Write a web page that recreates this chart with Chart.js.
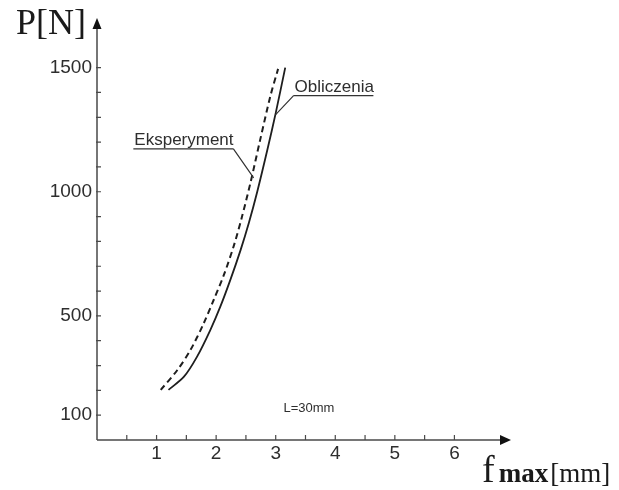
<!DOCTYPE html>
<html>
<head>
    <title>P(f_max)</title>
    <script src="https://cdn.jsdelivr.net/npm/chart.js"></script>
    <style>
        body { margin: 0; background: #fff; }
    </style>
</head>
<body>
    <canvas id="forceChart" width="619" height="490"></canvas>

    <script>
        // deflection f_max [mm] vs force P [N], L = 30 mm
        const obliczeniaX = [1.20, 1.46, 1.68, 1.90, 2.07, 2.24, 2.41, 2.55, 2.69, 2.86, 3.00, 3.16];
        const obliczeniaY = [202, 255, 336, 442, 537, 646, 765, 875, 1000, 1169, 1317, 1500];
        const eksperymentX = [1.07, 1.35, 1.57, 1.79, 1.96, 2.13, 2.30, 2.44, 2.58, 2.74, 2.91, 3.04];
        const eksperymentY = [202, 282, 363, 469, 565, 665, 785, 905, 1040, 1210, 1385, 1495];

        const xLabelValues = [1, 2, 3, 4, 5, 6];
        const yLabelValues = [100, 500, 1000, 1500];
        const xTickStep = 0.5;
        const yTickStep = 100;
        const xTickMarks = [0.5, 1, 1.5, 2, 2.5, 3, 3.5, 4, 4.5, 5, 5.5, 6];
        const yTickMarks = [100, 200, 300, 400, 500, 600, 700, 800, 900, 1000, 1100, 1200, 1300, 1400, 1500];
        const xAxisMax = 6.95;
        const yAxisMax = 1700;

        // callouts: underline from x0 to x1 at height y, leader to a point on the curve
        const callouts = [
            { text: 'Eksperyment', x0: 0.61, x1: 2.29, y: 1173, toX: 2.63, toY: 1056 },
            { text: 'Obliczenia', x0: 4.64, x1: 3.30, y: 1387, toX: 2.995, toY: 1310 }
        ];
        const noteText = 'L=30mm';
        const noteX = 3.13;
        const noteY = 113;

        const ink = '#1e1e1e';
        const axisColor = '#4a4a4a';
        const textColor = '#2e2e2e';
        const sans = '"Liberation Sans", Arial, sans-serif';
        const serif = '"Liberation Serif", "Times New Roman", serif';

        function points(xs, ys) {
            return xs.map((x, i) => ({ x: x, y: ys[i] }));
        }

        const axesPlugin = {
            id: 'axesAndNotes',
            afterDraw(chart) {
                const ctx = chart.ctx;
                const xs = chart.scales.x;
                const ys = chart.scales.y;
                const ox = xs.getPixelForValue(0);
                const oy = ys.getPixelForValue(0);
                const tipX = xs.getPixelForValue(xAxisMax);
                const tipY = ys.getPixelForValue(yAxisMax);

                ctx.save();
                ctx.strokeStyle = axisColor;
                ctx.lineWidth = 1.5;

                // axis lines
                ctx.beginPath();
                ctx.moveTo(ox, oy);
                ctx.lineTo(tipX - 6, oy);
                ctx.moveTo(ox, oy);
                ctx.lineTo(ox, tipY + 6);
                ctx.stroke();

                // arrow heads
                ctx.fillStyle = '#111';
                ctx.beginPath();
                ctx.moveTo(tipX, oy);
                ctx.lineTo(tipX - 11, oy - 5);
                ctx.lineTo(tipX - 11, oy + 5);
                ctx.closePath();
                ctx.fill();
                ctx.beginPath();
                ctx.moveTo(ox, tipY);
                ctx.lineTo(ox - 4.5, tipY + 11);
                ctx.lineTo(ox + 4.5, tipY + 11);
                ctx.closePath();
                ctx.fill();

                // tick marks, pointing inward
                ctx.lineWidth = 1.2;
                ctx.beginPath();
                xTickMarks.forEach(v => {
                    const px = xs.getPixelForValue(v);
                    ctx.moveTo(px, oy);
                    ctx.lineTo(px, oy - 5);
                });
                yTickMarks.forEach(v => {
                    const py = ys.getPixelForValue(v);
                    ctx.moveTo(ox - 1, py);
                    ctx.lineTo(ox + 4, py);
                });
                ctx.stroke();

                // callouts
                ctx.strokeStyle = '#333';
                ctx.fillStyle = textColor;
                ctx.lineWidth = 1.2;
                ctx.font = '17px ' + sans;
                ctx.textBaseline = 'alphabetic';
                ctx.textAlign = 'left';
                callouts.forEach(c => {
                    const a = xs.getPixelForValue(c.x0);
                    const b = xs.getPixelForValue(c.x1);
                    const uy = ys.getPixelForValue(c.y);
                    const ex = xs.getPixelForValue(c.toX);
                    const ey = ys.getPixelForValue(c.toY);
                    const near = Math.abs(a - ex) < Math.abs(b - ex) ? a : b;
                    ctx.beginPath();
                    ctx.moveTo(a, uy);
                    ctx.lineTo(b, uy);
                    ctx.moveTo(near, uy);
                    ctx.lineTo(ex, ey);
                    ctx.stroke();
                    ctx.fillText(c.text, Math.min(a, b) + 1, uy - 4);
                });

                ctx.font = '13px ' + sans;
                ctx.fillText(noteText, xs.getPixelForValue(noteX), ys.getPixelForValue(noteY));

                // axis titles
                ctx.fillStyle = '#1a1a1a';
                ctx.font = '36px ' + serif;
                ctx.fillText('P[N]', 16, 34);

                let fx = 482;
                const fy = 482;
                ctx.font = '38px ' + serif;
                ctx.fillText('f', fx, fy);
                fx += ctx.measureText('f').width + 4;
                ctx.font = 'bold 27px ' + serif;
                ctx.fillText('max', fx, fy);
                fx += ctx.measureText('max').width + 2;
                ctx.font = '27px ' + serif;
                ctx.fillText('[mm]', fx, fy);
                ctx.restore();
            }
        };

        const ctx = document.getElementById('forceChart').getContext('2d');
        new Chart(ctx, {
            type: 'line',
            data: {
                datasets: [
                    {
                        label: 'Obliczenia',
                        data: points(obliczeniaX, obliczeniaY),
                        borderColor: ink,
                        borderWidth: 1.8,
                        pointRadius: 0,
                        tension: 0.3,
                        fill: false
                    },
                    {
                        label: 'Eksperyment',
                        data: points(eksperymentX, eksperymentY),
                        borderColor: ink,
                        borderWidth: 2,
                        borderDash: [6, 4],
                        pointRadius: 0,
                        tension: 0.3,
                        fill: false
                    }
                ]
            },
            options: {
                responsive: false,
                animation: false,
                layout: { padding: { top: 18, right: 108, left: 0, bottom: 0 } },
                plugins: {
                    legend: { display: false },
                    tooltip: { enabled: false }
                },
                scales: {
                    x: {
                        type: 'linear',
                        min: 0,
                        max: xAxisMax,
                        grid: { display: false, drawTicks: false },
                        border: { display: false },
                        afterFit(scale) { scale.height = 50; },
                        ticks: {
                            stepSize: xTickStep,
                            autoSkip: false,
                            maxRotation: 0,
                            padding: 2,
                            color: textColor,
                            font: { family: sans, size: 19 },
                            callback: v => xLabelValues.includes(v) ? String(v) : ''
                        }
                    },
                    y: {
                        min: 0,
                        max: yAxisMax,
                        grid: { display: false, drawTicks: false },
                        border: { display: false },
                        afterFit(scale) { scale.width = 97; },
                        ticks: {
                            stepSize: yTickStep,
                            autoSkip: false,
                            padding: 5,
                            color: textColor,
                            font: { family: sans, size: 19 },
                            callback: v => yLabelValues.includes(v) ? String(v) : ''
                        }
                    }
                }
            },
            plugins: [axesPlugin]
        });
    </script>
</body>
</html>
